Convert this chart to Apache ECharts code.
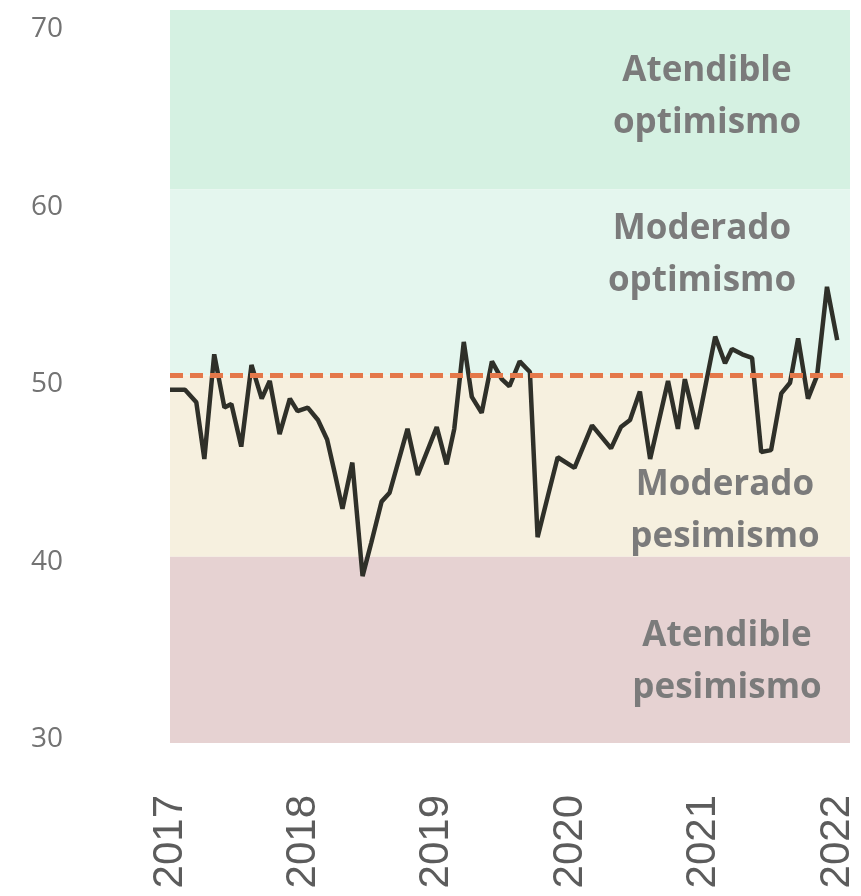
<!DOCTYPE html>
<html>
<head>
<meta charset="utf-8">
<script src="https://cdn.jsdelivr.net/npm/echarts@6/dist/echarts.min.js"></script>
<style>
  html, body { margin: 0; padding: 0; background: #fff; }
  #chart { width: 861px; height: 896px; }
</style>
</head>
<body>
<div id="chart"></div>
<script>
// fechas y valores
const dates = [
  '2017-01-01', '2017-02-11', '2017-03-14', '2017-04-05', '2017-05-02', '2017-05-30',
  '2017-06-18', '2017-07-15', '2017-08-12', '2017-09-09', '2017-10-01', '2017-10-28',
  '2017-11-25', '2017-12-16', '2018-01-13', '2018-02-10', '2018-03-07', '2018-03-28',
  '2018-04-18', '2018-05-15', '2018-06-12', '2018-07-06', '2018-08-03', '2018-08-25',
  '2018-10-13', '2018-11-10', '2019-01-01', '2019-01-28', '2019-02-18', '2019-03-16',
  '2019-04-07', '2019-05-04', '2019-06-01', '2019-06-28', '2019-07-19', '2019-08-16',
  '2019-09-13', '2019-10-04', '2019-11-01', '2019-11-28', '2020-01-13', '2020-03-01',
  '2020-04-22', '2020-05-19', '2020-06-13', '2020-07-10', '2020-08-07', '2020-09-25',
  '2020-10-22', '2020-11-10', '2020-12-13', '2021-02-01', '2021-02-28', '2021-03-19',
  '2021-04-16', '2021-05-13', '2021-06-07', '2021-07-04', '2021-08-01', '2021-08-25',
  '2021-09-16', '2021-10-13', '2021-11-07', '2021-12-04', '2022-01-01'
];
const values = [
  49.7, 49.7, 49.0, 45.8, 51.7, 48.7,
  48.9, 46.5, 51.1, 49.2, 50.2, 47.2,
  49.2, 48.5, 48.7, 48.0, 46.9, 45.0,
  43.0, 45.6, 39.2, 41.1, 43.4, 43.9,
  47.5, 44.9, 47.6, 45.5, 47.5, 52.4,
  49.3, 48.4, 51.3, 50.3, 49.9, 51.3,
  50.7, 41.4, 43.7, 45.9, 45.3, 47.7,
  46.4, 47.6, 48.0, 49.6, 45.8, 50.2,
  47.5, 50.3, 47.5, 52.7, 51.2, 52.0,
  51.7, 51.5, 46.2, 46.3, 49.5, 50.1,
  52.6, 49.2, 50.5, 55.5, 52.5
];

const yTicks = [30, 40, 50, 60, 70];
const yearTicks = ['2017-01-01', '2018-01-01', '2019-01-01', '2020-01-01', '2021-01-01', '2022-01-01'];

// zonas: [desde, hasta]
const zoneLimits = [[61, 71.1], [50.5, 61], [40.3, 50.5], [29.8, 40.3]];
const zoneColors = ['#d5f1e2', '#e4f6ee', '#f6f0df', '#e6d2d2'];
const zoneNames = [
  'Atendible\noptimismo',
  'Moderado\noptimismo',
  'Moderado\npesimismo',
  'Atendible\npesimismo'
];
const neutral = 50.5;

const ts = d => +new Date(d + 'T00:00:00Z');

const chart = echarts.init(document.getElementById('chart'));

const labelPos = [[707, 97], [702, 255], [725, 511], [727, 662]];

chart.setOption({
  animation: false,
  grid: { left: 170, right: 11, top: 10, bottom: 153 },
  xAxis: {
    type: 'value',
    min: ts('2017-01-01'),
    max: ts('2022-02-05'),
    axisLine: { show: false },
    axisTick: { show: false },
    splitLine: { show: false },
    axisLabel: {
      customValues: yearTicks.map(ts),
      formatter: v => String(new Date(v).getUTCFullYear()),
      rotate: 90,
      margin: 52,
      fontFamily: 'Liberation Sans',
      fontSize: 42,
      color: '#5c5c5c'
    }
  },
  yAxis: {
    type: 'value',
    min: 29.8,
    max: 71.1,
    axisLine: { show: false },
    axisTick: { show: false },
    splitLine: { show: false },
    axisLabel: {
      customValues: yTicks,
      margin: 107,
      fontFamily: 'Open Sans',
      fontSize: 28,
      color: '#737373'
    }
  },
  series: [{
    type: 'line',
    data: dates.map((d, i) => [ts(d), values[i]]),
    symbol: 'none',
    z: 3,
    lineStyle: { color: '#2f3029', width: 4.5 },
    markArea: {
      silent: true,
      data: zoneLimits.map((z, i) => [
        { yAxis: z[0], itemStyle: { color: zoneColors[i] } },
        { yAxis: z[1] }
      ])
    },
    markLine: {
      silent: true,
      symbol: 'none',
      label: { show: false },
      lineStyle: { color: '#e4784a', width: 5, type: [13, 7] },
      data: [{ yAxis: neutral }]
    }
  }],
  graphic: zoneNames.map((t, i) => ({
    type: 'text',
    z: 10,
    style: {
      text: t,
      x: labelPos[i][0],
      y: labelPos[i][1],
      align: 'center',
      verticalAlign: 'middle',
      font: 'bold 35px "Open Sans"',
      lineHeight: 52,
      fill: '#7b7b7b'
    }
  }))
});
</script>
</body>
</html>
